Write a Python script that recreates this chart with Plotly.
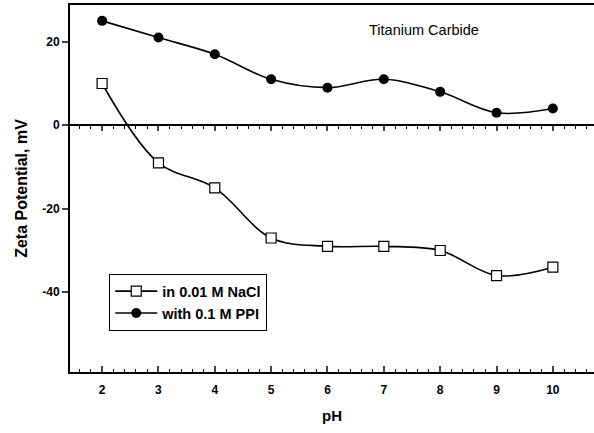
import plotly.graph_objects as go

ph = [2, 3, 4, 5, 6, 7, 8, 9, 10]
nacl = [10, -9, -15, -27, -29, -29, -30, -36, -34]
ppi = [25, 21, 17, 11, 9, 11, 8, 3, 4]
series_names = ["in 0.01 M NaCl", "with 0.1 M PPI"]
x_ticks = [2, 3, 4, 5, 6, 7, 8, 9, 10]
y_ticks = [-40, -20, 0, 20]
y_tick_text = ["-40", "-20", "0", "20"]

FONT = "Liberation Sans, Arial, sans-serif"
xr = [1.43, 10.73]
yr = [-59.1, 28.8]

fig = go.Figure()
fig.add_trace(go.Scatter(
    x=ph, y=nacl, name=series_names[0], mode="lines+markers",
    line=dict(color="black", width=1.6, shape="spline", smoothing=1),
    marker=dict(symbol="square", size=10, color="white",
                line=dict(color="black", width=1.2)),
))
fig.add_trace(go.Scatter(
    x=ph, y=ppi, name=series_names[1], mode="lines+markers",
    line=dict(color="black", width=1.6, shape="spline", smoothing=1),
    marker=dict(symbol="circle", size=10, color="black"),
))
# helper trace so the zero-line axis is drawn
fig.add_trace(go.Scatter(x=ph, y=ppi, xaxis="x2", mode="none",
                         showlegend=False, hoverinfo="skip"))

zero_pos = (0 - yr[0]) / (yr[1] - yr[0])

fig.update_layout(
    width=594, height=433,
    margin=dict(l=70, r=0, t=5, b=61),
    paper_bgcolor="white", plot_bgcolor="white",
    font=dict(family=FONT, color="black"),
    showlegend=True,
    legend=dict(
        x=0.0745, y=0.267, xanchor="left", yanchor="top",
        bordercolor="black", borderwidth=1.2, bgcolor="white",
        font=dict(family=FONT, size=14.5, weight="bold"),
        tracegroupgap=0, itemwidth=42,
    ),
    xaxis=dict(
        range=xr, tickvals=x_ticks, ticks="inside", ticklen=6, tickwidth=1.5,
        minor=dict(dtick=0.2, tick0=0, ticks="inside", ticklen=3, tickwidth=1.2,
                   tickcolor="black", showgrid=False),
        showline=True, linewidth=2, linecolor="black", mirror=True,
        showgrid=False, zeroline=False,
        tickfont=dict(family=FONT, size=12, weight="bold"),
        title=dict(text="pH", font=dict(family=FONT, size=15, weight="bold"),
                   standoff=14),
        ticklabelstandoff=6,
    ),
    xaxis2=dict(
        range=xr, overlaying="x", anchor="free", position=zero_pos, side="bottom",
        tickvals=x_ticks, ticks="outside", ticklen=5, tickwidth=1.5,
        minor=dict(dtick=0.2, tick0=0, ticks="outside", ticklen=3, tickwidth=1.2,
                   tickcolor="black", showgrid=False),
        showline=True, linewidth=2, linecolor="black",
        showticklabels=False, showgrid=False, zeroline=False,
    ),
    yaxis=dict(
        range=yr, tickvals=y_ticks, ticktext=y_tick_text,
        ticks="outside", ticklen=6, tickwidth=1.5,
        showline=True, linewidth=2, linecolor="black", mirror=False,
        showgrid=False, zeroline=False,
        tickfont=dict(family=FONT, size=12, weight="bold"),
        title=dict(text="Zeta Potential, mV",
                   font=dict(family=FONT, size=16, weight="bold"), standoff=11),
    ),
    annotations=[dict(
        text="Titanium Carbide", x=7.71, y=22.8, xref="x", yref="y",
        showarrow=False, font=dict(family=FONT, size=14.5, color="black"),
    )],
)

fig.write_html("out.html", config={"displayModeBar": False},
               post_script="document.body.style.margin='0';document.body.style.padding='0';")
